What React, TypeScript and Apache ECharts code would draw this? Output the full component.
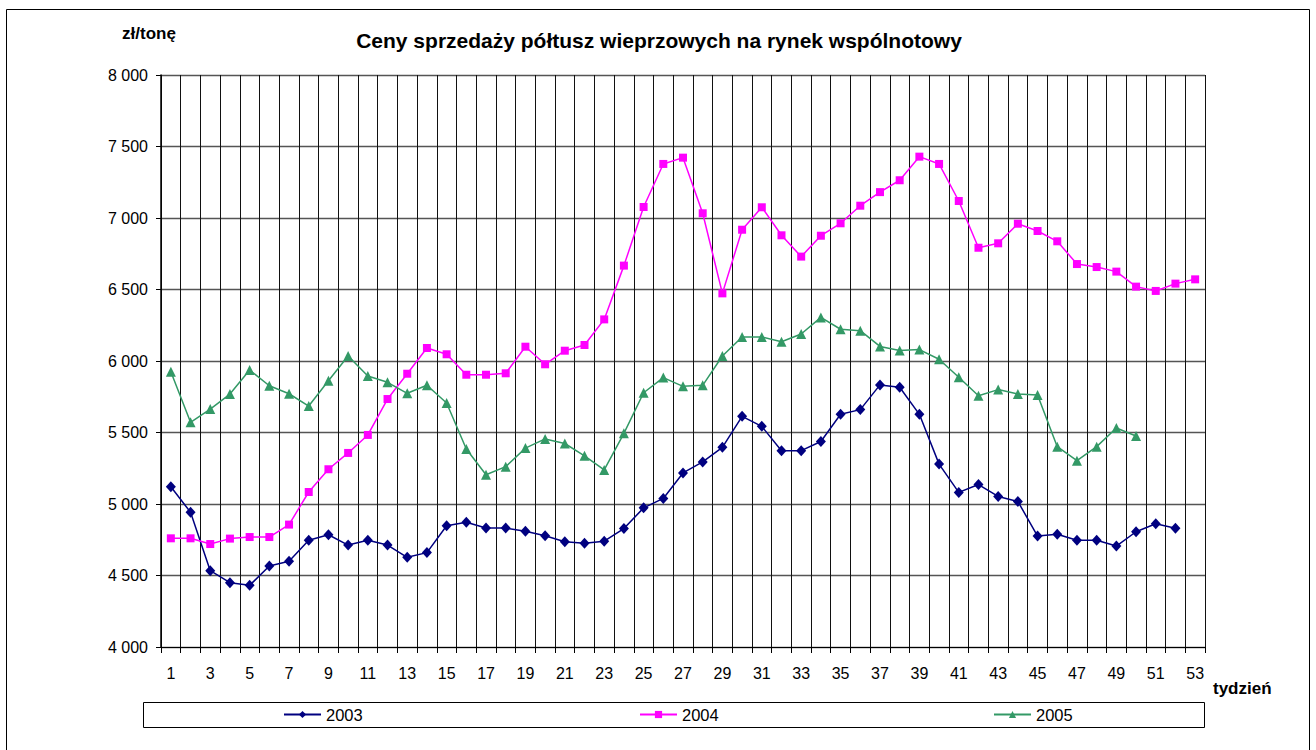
import React, { useEffect, useRef } from "react";
import * as echarts from "echarts";

const weeks: string[] = Array.from({ length: 53 }, (_, i) => String(i + 1));

const s2003: (number | null)[] = [
  5121, 4942, 4534, 4450, 4431, 4566, 4599, 4746, 4785, 4713,
  4746, 4713, 4627, 4660, 4848, 4872, 4832, 4832, 4809, 4778,
  4736, 4725, 4740, 4828, 4973, 5039, 5217, 5294, 5396, 5613,
  5543, 5373, 5373, 5437, 5628, 5660, 5833, 5816, 5627, 5279,
  5081, 5136, 5053, 5018, 4776, 4788, 4746, 4746, 4706, 4806,
  4862, 4830,
];

const s2004: (number | null)[] = [
  4760, 4760, 4720, 4758, 4769, 4769, 4856, 5084, 5243, 5357,
  5483, 5734, 5911, 6091, 6047, 5904, 5904, 5914, 6100, 5977,
  6072, 6112, 6291, 6667, 7077, 7378, 7422, 7033, 6473, 6918,
  7075, 6879, 6730, 6876, 6963, 7086, 7181, 7264, 7429, 7378,
  7119, 6792, 6823, 6960, 6909, 6837, 6678, 6657, 6625, 6520,
  6490, 6541, 6571,
];

const s2005: (number | null)[] = [
  5925, 5571, 5664, 5769, 5937, 5827, 5771, 5685, 5862, 6035,
  5895, 5851, 5774, 5830, 5706, 5385, 5205, 5261, 5391, 5455,
  5423, 5337, 5238, 5494, 5778, 5884, 5823, 5830, 6035, 6168,
  6168, 6135, 6189, 6305, 6222, 6212, 6102, 6073, 6080, 6012,
  5886, 5757, 5800, 5769, 5762, 5401, 5303, 5401, 5531, 5476,
];

const seriesNames = ["2003", "2004", "2005"];
const title = "Ceny sprzedaży półtusz wieprzowych na rynek wspólnotowy";
const yUnit = "zł/tonę";
const xUnit = "tydzień";

const FONT = "'Liberation Sans', Arial, sans-serif";

export default function App() {
  const ref = useRef<HTMLDivElement>(null);
  useEffect(() => {
    if (!ref.current) return;
    const chart = echarts.init(ref.current, undefined, { renderer: "svg" });
    const fmt = (v: number) => {
      const s = String(Math.round(v));
      return s.replace(/\B(?=(\d{3})+(?!\d))/g, " ");
    };
    const legendBase = {
      orient: "horizontal" as const,
      top: 706,
      itemWidth: 37,
      itemHeight: 9,
      itemGap: 4,
      textStyle: { fontFamily: FONT, fontSize: 16.5, color: "#000" },
      padding: 0,
    };
    chart.setOption({
      animation: false,
      backgroundColor: "#fff",
      textStyle: { fontFamily: FONT },
      grid: { left: 161, top: 75, right: 111, bottom: 103, containLabel: false },
      legend: [
        { ...legendBase, left: 283, data: [seriesNames[0]] },
        { ...legendBase, left: 639, data: [seriesNames[1]] },
        { ...legendBase, left: 993, data: [seriesNames[2]] },
      ],
      graphic: [
        {
          type: "rect",
          shape: { x: 6.5, y: 9.5, width: 1303, height: 800 },
          style: { fill: "none", stroke: "#000", lineWidth: 1 },
          silent: true,
        },
        {
          type: "rect",
          shape: { x: 143.5, y: 702.5, width: 1061, height: 25 },
          style: { fill: "none", stroke: "#000", lineWidth: 1 },
          silent: true,
          z: -1,
        },
        {
          type: "text",
          x: 659,
          y: 40,
          style: {
            text: title,
            fontFamily: FONT,
            fontSize: 21,
            fontWeight: "bold",
            fill: "#000",
            textAlign: "center",
            textVerticalAlign: "middle",
          },
        },
        {
          type: "text",
          x: 149,
          y: 33,
          style: {
            text: yUnit,
            fontFamily: FONT,
            fontSize: 17,
            fontWeight: "bold",
            fill: "#000",
            textAlign: "center",
            textVerticalAlign: "middle",
          },
        },
        {
          type: "text",
          x: 1213,
          y: 688,
          style: {
            text: xUnit,
            fontFamily: FONT,
            fontSize: 17,
            fontWeight: "bold",
            fill: "#000",
            textAlign: "left",
            textVerticalAlign: "middle",
          },
        },
      ],
      xAxis: {
        type: "category",
        data: weeks,
        boundaryGap: true,
        axisLine: { show: true, lineStyle: { color: "#000", width: 1 } },
        axisTick: { show: true, interval: 0, length: 6, lineStyle: { color: "#000" } },
        axisLabel: {
          interval: 1,
          margin: 18,
          fontFamily: FONT,
          fontSize: 16,
          color: "#000",
        },
        splitLine: { show: true, interval: 0, lineStyle: { color: "#111", width: 1 } },
      },
      yAxis: {
        type: "value",
        min: 4000,
        max: 8000,
        interval: 500,
        axisLine: { show: true, lineStyle: { color: "#000", width: 1.5 } },
        axisTick: { show: true, length: 5, lineStyle: { color: "#000" } },
        axisLabel: {
          formatter: (v: number) => fmt(v),
          margin: 13,
          fontFamily: FONT,
          fontSize: 16,
          color: "#000",
        },
        splitLine: { show: true, lineStyle: { color: "#555", width: 1.3 } },
      },
      series: [
        {
          name: seriesNames[0],
          type: "line",
          data: s2003,
          symbol: "diamond",
          symbolSize: [10, 11],
          itemStyle: { color: "#000080" },
          lineStyle: { color: "#000080", width: 1.5 },
          connectNulls: false,
        },
        {
          name: seriesNames[1],
          type: "line",
          data: s2004,
          symbol: "rect",
          symbolSize: 8,
          itemStyle: { color: "#FF00FF" },
          lineStyle: { color: "#FF00FF", width: 1.5 },
        },
        {
          name: seriesNames[2],
          type: "line",
          data: s2005,
          symbol: "triangle",
          symbolSize: 10,
          itemStyle: { color: "#339966" },
          lineStyle: { color: "#339966", width: 1.5 },
        },
      ],
    });
    return () => chart.dispose();
  }, []);
  return (
    <div
      ref={ref}
      style={{ position: "fixed", left: 0, top: 0, width: 1316, height: 750 }}
    />
  );
}
